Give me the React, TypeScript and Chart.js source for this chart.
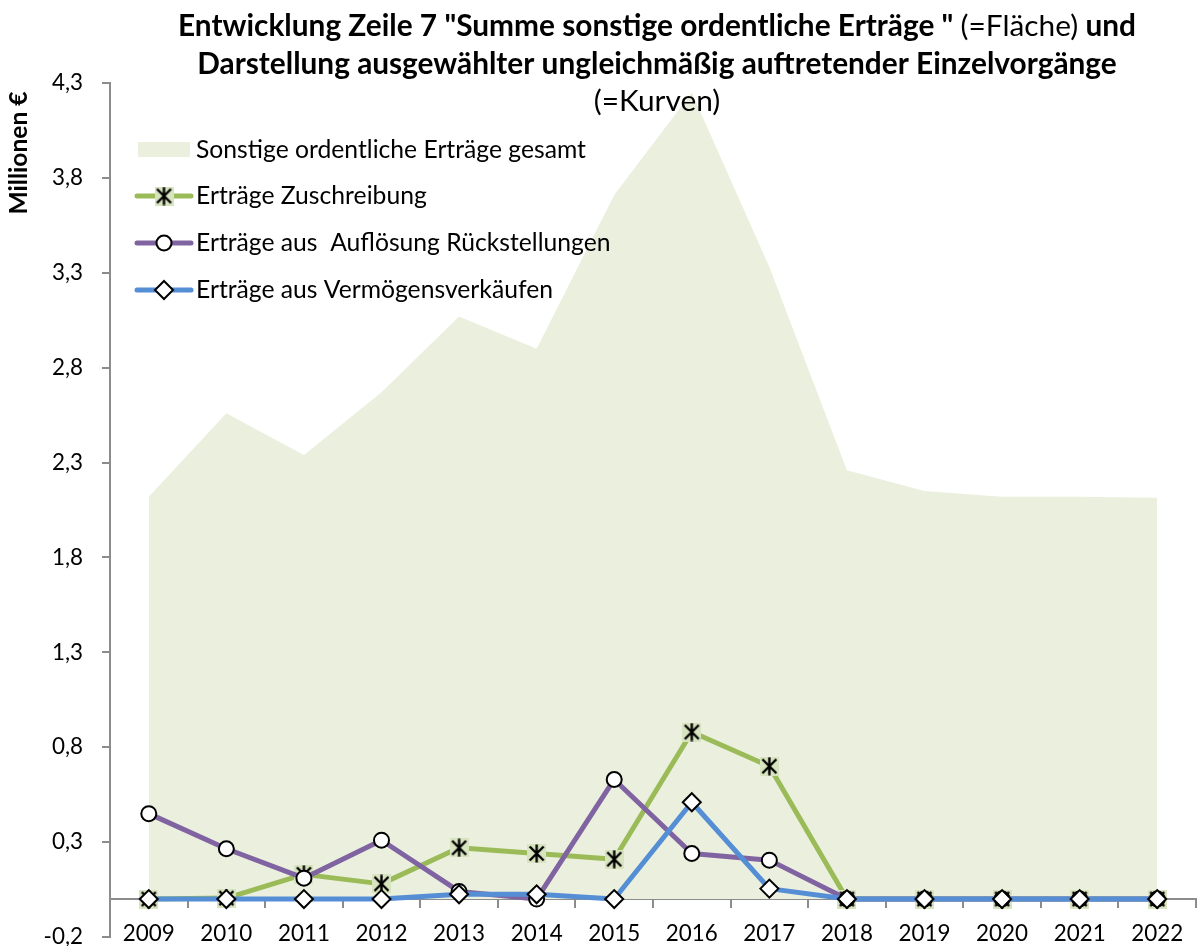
import React, { useEffect, useRef } from 'react';
import { Chart, registerables } from 'chart.js';

Chart.register(...registerables);

const FONT = 'Lato, "Open Sans", sans-serif';

const categories = ['2009', '2010', '2011', '2012', '2013', '2014', '2015', '2016', '2017', '2018', '2019', '2020', '2021', '2022'];
const totalIncome = [2.12, 2.56, 2.34, 2.67, 3.07, 2.90, 3.71, 4.25, 3.33, 2.26, 2.15, 2.12, 2.12, 2.115];
const writeUps = [0, 0.005, 0.13, 0.08, 0.27, 0.24, 0.21, 0.88, 0.70, 0, 0, 0, 0, 0];
const provisionReleases = [0.45, 0.265, 0.11, 0.31, 0.04, 0.0, 0.63, 0.24, 0.205, 0, 0, 0, 0, 0];
const assetSales = [0, 0, 0, 0, 0.025, 0.025, 0, 0.51, 0.055, 0, 0, 0, 0, 0];
const yTicks = [-0.2, 0.3, 0.8, 1.3, 1.8, 2.3, 2.8, 3.3, 3.8, 4.3];

const seriesLabels = [
  'Sonstige ordentliche Erträge gesamt',
  'Erträge Zuschreibung',
  'Erträge aus  Auflösung Rückstellungen',
  'Erträge aus Vermögensverkäufen',
];
const yAxisTitle = 'Millionen €';
const titleLine1 = [
  { text: 'Entwicklung Zeile 7 "Summe sonstige ordentliche Erträge " ', bold: true },
  { text: '(=Fläche)', bold: false },
  { text: ' und', bold: true },
];
const titleLine2 = 'Darstellung ausgewählter ungleichmäßig auftretender Einzelvorgänge';
const titleLine3 = '(=Kurven)';

const AREA_COLOR = '#EBF0DE';
const GREEN = '#9BBB59';
const PURPLE = '#8064A2';
const BLUE = '#558ED5';
const AXIS_COLOR = '#8C8C8C';

function fitSize(ctx: CanvasRenderingContext2D, text: string, weight: string, target: number) {
  ctx.font = `${weight} 100px ${FONT}`;
  return (100 * target) / ctx.measureText(text).width;
}

function makeStar(size: number) {
  const c = document.createElement('canvas');
  c.width = size;
  c.height = size;
  const g = c.getContext('2d')!;
  g.fillStyle = '#D8E4BF';
  g.fillRect(0, 0, size, size);
  g.strokeStyle = '#000';
  g.lineWidth = 2.4;
  const m = 2.5;
  g.beginPath();
  g.moveTo(m, m);
  g.lineTo(size - m, size - m);
  g.moveTo(size - m, m);
  g.lineTo(m, size - m);
  g.moveTo(size / 2, 0.5);
  g.lineTo(size / 2, size - 0.5);
  g.stroke();
  return c;
}

export default function App() {
  const ref = useRef<HTMLCanvasElement>(null);

  useEffect(() => {
    const canvas = ref.current!;
    const ctx0 = canvas.getContext('2d')!;
    const tickSize = fitSize(ctx0, '2009', 'normal', 52);
    const titleSize = fitSize(ctx0, titleLine2, 'bold', 920);
    const legendSize = fitSize(ctx0, seriesLabels[0], 'normal', 390);
    const yTitleSize = fitSize(ctx0, yAxisTitle, 'bold', 123);
    const star = makeStar(19);

    const overlay = {
      id: 'overlay',
      afterDraw(chart: any) {
        const ctx = chart.ctx as CanvasRenderingContext2D;
        ctx.save();
        ctx.fillStyle = '#000';
        ctx.textBaseline = 'middle';
        // Title
        const cx = 657;
        const runs1 = titleLine1.map((r) => {
          ctx.font = `${r.bold ? 'bold' : 'normal'} ${titleSize}px ${FONT}`;
          return { ...r, w: ctx.measureText(r.text).width };
        });
        const total1 = runs1.reduce((a, r) => a + r.w, 0);
        let x = cx - total1 / 2;
        ctx.textAlign = 'left';
        for (const r of runs1) {
          ctx.font = `${r.bold ? 'bold' : 'normal'} ${titleSize}px ${FONT}`;
          ctx.fillText(r.text, x, 26);
          x += r.w;
        }
        ctx.textAlign = 'center';
        ctx.font = `bold ${titleSize}px ${FONT}`;
        ctx.fillText(titleLine2, cx, 64);
        ctx.font = `normal ${titleSize}px ${FONT}`;
        ctx.fillText(titleLine3, cx, 101);

        // Y axis title
        ctx.save();
        ctx.translate(19, 153);
        ctx.rotate(-Math.PI / 2);
        ctx.font = `bold ${yTitleSize}px ${FONT}`;
        ctx.textAlign = 'center';
        ctx.fillText(yAxisTitle, 0, 0);
        ctx.restore();

        // Legend
        ctx.textAlign = 'left';
        ctx.font = `normal ${legendSize}px ${FONT}`;
        const tx = 196;
        ctx.fillStyle = AREA_COLOR;
        ctx.fillRect(138, 142, 52, 15);
        ctx.fillStyle = '#000';
        ctx.fillText(seriesLabels[0], tx, 150);
        const rows = [
          { y: 196, color: GREEN, marker: 'star' },
          { y: 243, color: PURPLE, marker: 'circle' },
          { y: 290, color: BLUE, marker: 'diamond' },
        ];
        rows.forEach((row, i) => {
          ctx.strokeStyle = row.color;
          ctx.lineWidth = 5;
          ctx.lineCap = 'round';
          ctx.beginPath();
          ctx.moveTo(137, row.y);
          ctx.lineTo(191, row.y);
          ctx.stroke();
          const mx = 164;
          if (row.marker === 'star') {
            ctx.drawImage(star, mx - star.width / 2, row.y - star.height / 2);
          } else if (row.marker === 'circle') {
            ctx.beginPath();
            ctx.arc(mx, row.y, 7.5, 0, Math.PI * 2);
            ctx.fillStyle = '#fff';
            ctx.fill();
            ctx.strokeStyle = '#000';
            ctx.lineWidth = 2;
            ctx.stroke();
          } else {
            ctx.beginPath();
            ctx.moveTo(mx, row.y - 9);
            ctx.lineTo(mx + 9, row.y);
            ctx.lineTo(mx, row.y + 9);
            ctx.lineTo(mx - 9, row.y);
            ctx.closePath();
            ctx.fillStyle = '#fff';
            ctx.fill();
            ctx.strokeStyle = '#000';
            ctx.lineWidth = 2;
            ctx.stroke();
          }
          ctx.fillStyle = '#000';
          ctx.fillText(seriesLabels[i + 1], tx, row.y);
        });
        ctx.restore();
      },
    };

    const lineCommon = {
      type: 'line' as const,
      borderWidth: 5,
      tension: 0,
      fill: false,
      borderJoinStyle: 'round' as const,
      borderCapStyle: 'round' as const,
      pointBorderColor: '#000',
      pointBorderWidth: 2,
      pointBackgroundColor: '#fff',
    };

    const chart = new Chart(canvas, {
      type: 'line',
      data: {
        labels: categories,
        datasets: [
          {
            label: seriesLabels[0],
            data: totalIncome,
            backgroundColor: AREA_COLOR,
            borderWidth: 0,
            borderColor: 'rgba(0,0,0,0)',
            pointRadius: 0,
            fill: 'origin',
            tension: 0,
            order: 10,
          },
          {
            ...lineCommon,
            label: seriesLabels[1],
            data: writeUps,
            borderColor: GREEN,
            pointStyle: star as any,
            pointRadius: 9,
            order: 3,
          },
          {
            ...lineCommon,
            label: seriesLabels[2],
            data: provisionReleases,
            borderColor: PURPLE,
            pointStyle: 'circle',
            pointRadius: 7.5,
            order: 2,
          },
          {
            ...lineCommon,
            label: seriesLabels[3],
            data: assetSales,
            borderColor: BLUE,
            pointStyle: 'rectRot',
            pointRadius: 9,
            order: 1,
          },
        ],
      },
      options: {
        responsive: false,
        animation: false,
        layout: { autoPadding: false, padding: { top: 83, bottom: 9, left: 0, right: 1 } },
        plugins: {
          legend: { display: false },
          title: { display: false },
          tooltip: { enabled: false },
        },
        scales: {
          x: {
            type: 'category',
            offset: true,
            position: { y: 0 } as any,
            grid: {
              offset: true,
              drawOnChartArea: false,
              drawTicks: true,
              tickLength: 8,
              color: AXIS_COLOR,
              lineWidth: 2,
            },
            border: { display: true, color: AXIS_COLOR, width: 2 },
            ticks: {
              font: { family: FONT, size: tickSize },
              color: '#000',
              padding: 13,
              maxRotation: 0,
              autoSkip: false,
            },
            afterFit: (s: any) => {
              s.paddingLeft = 0;
              s.paddingRight = 0;
            },
          },
          y: {
            type: 'linear',
            min: -0.2,
            max: 4.3,
            afterBuildTicks: (s: any) => {
              s.ticks = yTicks.map((v) => ({ value: v }));
            },
            afterFit: (s: any) => {
              s.width = 110;
              s.paddingTop = 0;
              s.paddingBottom = 0;
            },
            grid: {
              drawOnChartArea: false,
              drawTicks: true,
              tickLength: 8,
              color: AXIS_COLOR,
              lineWidth: 2,
            },
            border: { display: true, color: AXIS_COLOR, width: 2 },
            ticks: {
              font: { family: FONT, size: tickSize },
              color: '#000',
              padding: 19,
              callback: (v: any) => Number(v).toFixed(1).replace('.', ','),
            },
          },
        },
      },
      plugins: [overlay],
    });

    return () => chart.destroy();
  }, []);

  return (
    <div style={{ position: 'fixed', left: 0, top: 0, width: 1197, height: 946, background: '#fff' }}>
      <canvas ref={ref} width={1197} height={946} style={{ display: 'block' }} />
    </div>
  );
}
